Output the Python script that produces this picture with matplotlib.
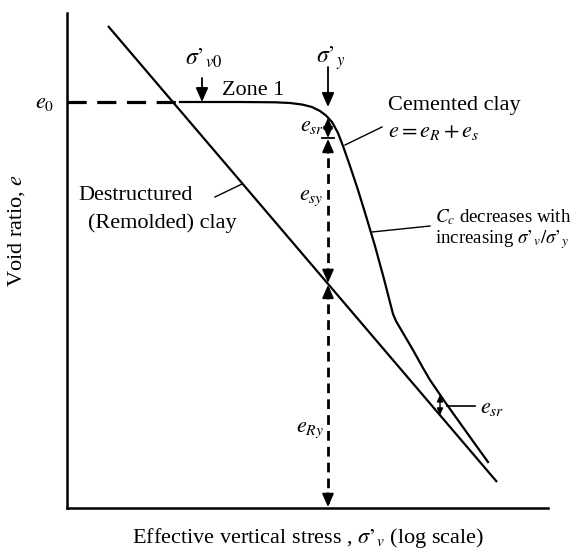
import numpy as np
import matplotlib
matplotlib.use("Agg")
import matplotlib.pyplot as plt

# coordinates (x: stress axis, y: void ratio axis, arbitrary units)
remolded_x = [108, 497]
remolded_y = [532, 76]

cemented_x = [180, 240, 275, 290, 302, 312, 320, 326, 332, 338, 343, 350, 358,
              366, 375, 384, 393, 396, 403, 413, 423, 430, 445, 460, 475, 488]
cemented_y = [456, 456, 455.7, 455, 453.5, 451, 447, 442.5, 436, 425, 412, 392, 368,
              342, 312, 279, 244, 237, 225, 208, 190, 178, 156, 135, 114, 96]

e0 = 456
sigma_v0 = 202
sigma_y = 328
x_esr2 = 440

plt.rcParams['font.family'] = ['Liberation Serif', 'DejaVu Serif']
plt.rcParams['mathtext.fontset'] = 'stix'

fig = plt.figure(figsize=(5.77, 5.58), dpi=100)
ax = fig.add_axes([67 / 577, 50 / 558, 481 / 577, 495 / 558])
ax.set_xlim(67, 548)
ax.set_ylim(50, 545)
for s in ['top', 'right']:
    ax.spines[s].set_visible(False)
for s in ['left', 'bottom']:
    ax.spines[s].set_linewidth(1.8)
ax.set_xticks([])
ax.set_yticks([])

lw = 1.6
fs = 16

# lines
ax.plot(remolded_x, remolded_y, color='black', lw=lw, solid_capstyle='butt')
ax.plot(cemented_x, cemented_y, color='black', lw=lw)
ax.plot([67, 176], [e0, e0], color='black', lw=2.3, dashes=(6, 3.3))

head = '-|>,head_length=0.5,head_width=0.22'


def arrow_to(x, y, dy, ms=17):
    ax.annotate('', xy=(x, y), xytext=(x, y + dy),
                arrowprops=dict(arrowstyle=head, color='black', lw=1.3,
                                mutation_scale=ms, shrinkA=0, shrinkB=0))


# sigma arrows
arrow_to(sigma_v0, e0, 24)
arrow_to(sigma_y, e0 - 5, 40)

# e_sr at sigma_y
y_top = np.interp(sigma_y, cemented_x, cemented_y)
y_bar = 420
y_rem = np.interp(sigma_y, remolded_x, remolded_y)
ax.annotate('', xy=(sigma_y, y_top), xytext=(sigma_y, y_bar),
            arrowprops=dict(arrowstyle='<|-|>,head_length=0.5,head_width=0.22',
                            color='black', lw=1.3, mutation_scale=13,
                            shrinkA=0, shrinkB=0))
ax.plot([sigma_y - 6, sigma_y + 6], [y_bar, y_bar], color='black', lw=1.3)

# e_sy and e_Ry dashed
ax.plot([sigma_y, sigma_y], [y_bar - 4, y_rem + 4], color='black', lw=2.0, dashes=(3.5, 2.2))
ax.plot([sigma_y, sigma_y], [y_rem - 4, 54], color='black', lw=2.0, dashes=(3.5, 2.2))
arrow_to(sigma_y, y_bar - 1, -14, ms=16)
arrow_to(sigma_y, y_rem + 1, 14, ms=16)
arrow_to(sigma_y, y_rem - 1, -14, ms=16)
arrow_to(sigma_y, 51, 14, ms=16)

# e_sr at large stress
y_c2 = np.interp(x_esr2, cemented_x, cemented_y)
y_r2 = np.interp(x_esr2, remolded_x, remolded_y)
ax.annotate('', xy=(x_esr2, y_c2), xytext=(x_esr2, y_r2),
            arrowprops=dict(arrowstyle='<|-|>,head_length=0.4,head_width=0.18',
                            color='black', lw=1.0, mutation_scale=10,
                            shrinkA=0, shrinkB=0))
ax.plot([447, 475], [152, 152], color='black', lw=1.2)

# leader lines
ax.plot([215, 242], [361, 374], color='black', lw=1.0)
ax.plot([345, 382], [413, 431], color='black', lw=1.0)
ax.plot([372, 430], [326, 332], color='black', lw=1.0)

# texts
ax.text(45, 450, r'$e_0$', fontsize=fs, ha='center', va='baseline')
ax.text(185, 493, r"$\sigma\mathrm{’}_{v0}$", fontsize=17, ha='left', va='baseline')
ax.text(222, 463, 'Zone 1', fontsize=fs, ha='left', va='baseline')
ax.text(316, 495, r"$\sigma\mathrm{’}_{y}$", fontsize=17, ha='left', va='baseline')
ax.text(388, 448, 'Cemented clay', fontsize=fs, ha='left', va='baseline')
ax.text(388, 421, r'$e = e_R + e_s$', fontsize=fs, ha='left', va='baseline')
ax.text(324, 427, r'$e_{sr}$', fontsize=fs, ha='right', va='baseline')
ax.text(324, 358, r'$e_{sy}$', fontsize=fs, ha='right', va='baseline')
ax.text(324, 126, r'$e_{Ry}$', fontsize=fs, ha='right', va='baseline')
ax.text(480, 145, r'$e_{sr}$', fontsize=fs, ha='left', va='baseline')
ax.text(78, 358, 'Destructured', fontsize=fs, ha='left', va='baseline')
ax.text(88, 330, '(Remolded) clay', fontsize=fs, ha='left', va='baseline')
ax.text(435, 336, r'$C_c$ decreases with', fontsize=13.6, ha='left', va='baseline')
ax.text(435, 315, r"increasing $\sigma\mathrm{’}_v/\sigma\mathrm{’}_y$", fontsize=13.6,
        ha='left', va='baseline')

fig.text(308 / 577, 1 - 543 / 558, r"Effective vertical stress , $\sigma\mathrm{’}_v$ (log scale)",
         fontsize=fs, ha='center', va='baseline')
fig.text(17 / 577, 1 - 230 / 558, r'Void ratio, $e$', fontsize=fs, ha='center',
         va='center', rotation=90)

fig.savefig('out.png', dpi=100)
